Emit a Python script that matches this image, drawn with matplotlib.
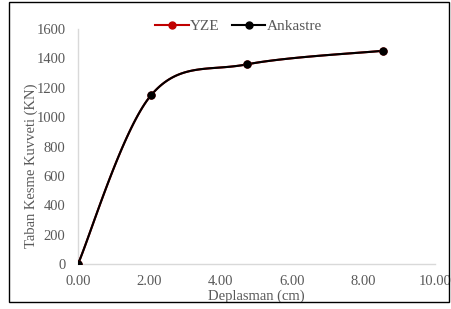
import matplotlib.pyplot as plt
import matplotlib.patches as patches
import numpy as np

# data
disp = [0.0, 2.05, 4.75, 8.55]
yze = [0, 1150, 1360, 1452]
ankastre = [0, 1150, 1360, 1452]
xticks = [0, 2, 4, 6, 8, 10]
yticks = [0, 200, 400, 600, 800, 1000, 1200, 1400, 1600]


def smooth(x, y, n=40):
    # excel-like smoothed line (cubic bezier through the points)
    x = np.asarray(x, float)
    y = np.asarray(y, float)
    P = np.column_stack([x, y])
    out = [P[0]]
    for i in range(len(P) - 1):
        p0 = P[i - 1] if i > 0 else P[i]
        p1 = P[i]
        p2 = P[i + 1]
        p3 = P[i + 2] if i + 2 < len(P) else P[i + 1]
        c1 = p1 + (p2 - p0) / 6
        c2 = p2 - (p3 - p1) / 6
        t = np.linspace(0, 1, n)[1:, None]
        seg = ((1 - t) ** 3) * p1 + 3 * ((1 - t) ** 2) * t * c1 + 3 * (1 - t) * t ** 2 * c2 + t ** 3 * p2
        out.extend(seg)
    out = np.array(out)
    return out[:, 0], out[:, 1]


plt.rcParams['font.family'] = ['Liberation Serif', 'DejaVu Serif']
grey = '#595959'

fig = plt.figure(figsize=(4.52, 3.09), dpi=100)
ax = fig.add_axes([0.1726, 0.1456, 0.7894, 0.7605])

for vals, col, lab in [(yze, '#c00000', 'YZE'), (ankastre, 'black', 'Ankastre')]:
    sx, sy = smooth(disp, vals)
    ax.plot(sx, sy, color=col, lw=1.5, zorder=3)
    ax.plot(disp, vals, 'o', color=col, ms=5, zorder=4)
    ax.plot([], [], '-o', color=col, lw=1.5, ms=5, label=lab)

ax.set_xlim(0, 10)
ax.set_ylim(0, 1600)
ax.set_xticks(xticks)
ax.set_xticklabels(['%.2f' % v for v in xticks])
ax.set_yticks(yticks)
for s in ['top', 'right']:
    ax.spines[s].set_visible(False)
for s in ['left', 'bottom']:
    ax.spines[s].set_color('#d9d9d9')
    ax.spines[s].set_linewidth(1)
ax.tick_params(length=0, labelsize=10.5, colors=grey)
ax.tick_params(axis='x', pad=8)
ax.tick_params(axis='y', pad=9)
ax.set_xlabel('Deplasman (cm)', fontsize=10.5, color=grey)
ax.xaxis.set_label_coords(0.5, -0.11)
ax.set_ylabel('Taban Kesme Kuvveti (KN)', fontsize=10.5, color=grey)
ax.yaxis.set_label_coords(-0.113, 0.42)

leg = ax.legend(loc='upper center', bbox_to_anchor=(0.45, 1.10), ncol=2, frameon=False,
                fontsize=11, handlelength=2.2, columnspacing=0.8, handletextpad=0.1)
for t in leg.get_texts():
    t.set_color(grey)

fig.add_artist(patches.Rectangle((9 / 452, 1 - 302 / 309), 440 / 452, 300 / 309,
                                 transform=fig.transFigure, fill=False, ec='black', lw=1))

fig.savefig('out.png', dpi=100)
